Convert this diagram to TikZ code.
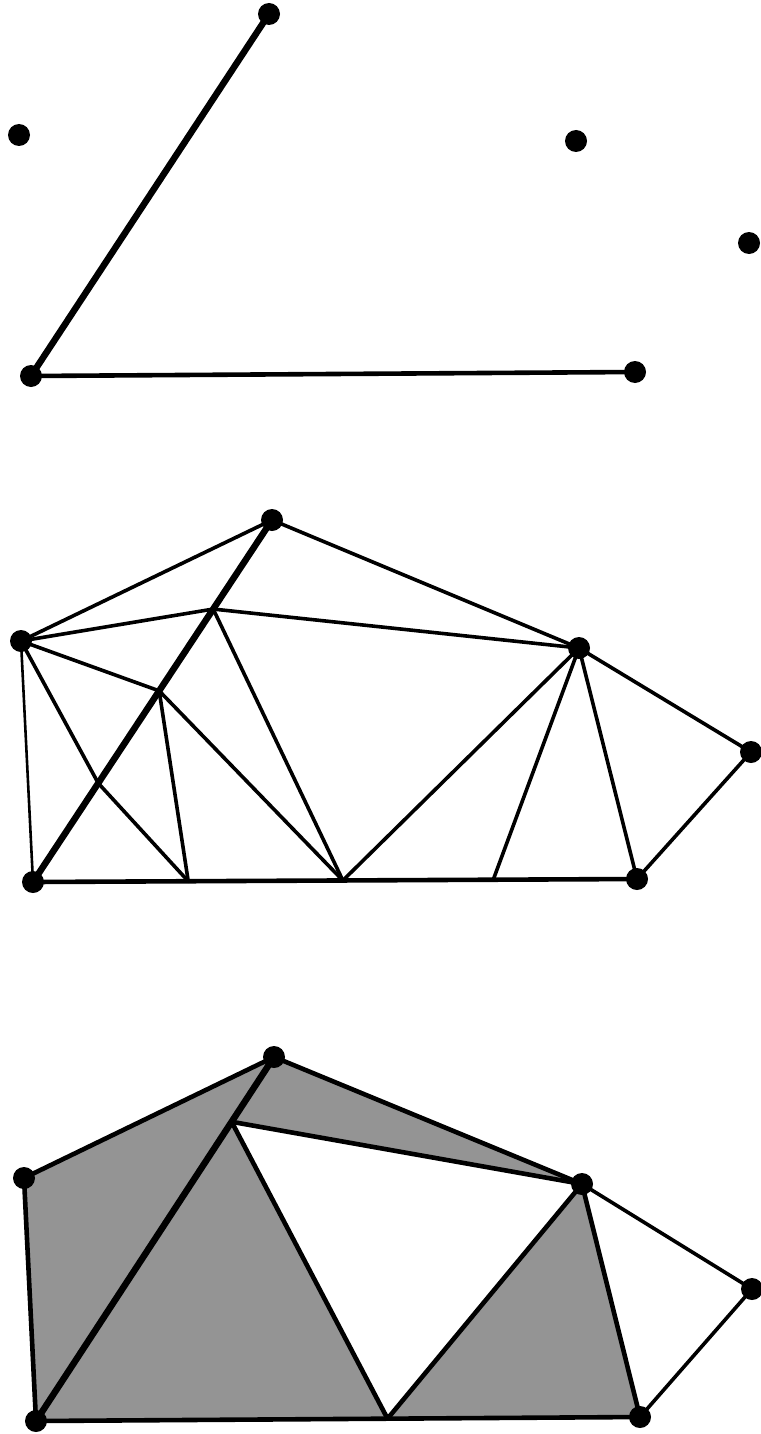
\documentclass[tikz,border=0pt]{standalone}
\usetikzlibrary{calc}

\tikzset{
  vertex/.style={fill=black},
  thin edge/.style={line width=3.6pt},
  base edge/.style={line width=4.6pt},
  heavy edge/.style={line width=6.5pt},
  region/.style={fill=black!42},
}

\begin{document}
\begin{tikzpicture}[x=1pt,y=-1pt, line cap=round, line join=round]

\useasboundingbox (0,0) rectangle (760,1434);

% ---------- first panel: points and the two given segments
\coordinate (a1) at (269,14);
\coordinate (b1) at (19,135);
\coordinate (c1) at (576,141);
\coordinate (d1) at (749,243);
\coordinate (e1) at (31,376);
\coordinate (f1) at (635,372);

\draw[heavy edge] (a1) -- (e1);
\draw[base edge] (e1) -- (f1);

\foreach \p in {a1,b1,c1,d1,e1,f1}
    \fill[vertex] (\p) circle (11);

% ---------- second panel: triangulation with Steiner points
\coordinate (a2) at (272,520);
\coordinate (b2) at (21,641);
\coordinate (c2) at (579,648);
\coordinate (d2) at (751,752);
\coordinate (e2) at (33,882);
\coordinate (f2) at (637,879);

% points on the heavy segment
\coordinate (s1) at ($(a2)!0.246!(e2)$);
\coordinate (s2) at ($(a2)!0.472!(e2)$);
\coordinate (s3) at ($(a2)!0.727!(e2)$);
% points on the bottom segment
\coordinate (m1) at ($(e2)!0.257!(f2)$);
\coordinate (m2) at ($(e2)!0.513!(f2)$);
\coordinate (m3) at ($(e2)!0.762!(f2)$);

\draw[thin edge] (a2) -- (b2);
\draw[thin edge] (a2) -- (c2);
\draw[thin edge] (b2) -- (s1) -- (c2);
\draw[thin edge] (b2) -- (s2);
\draw[thin edge] (b2) -- (s3) -- (m1);
\draw[line width=2.6pt] (b2) -- (e2);
\draw[thin edge] (s1) -- (m2);
\draw[thin edge] (s2) -- (m1);
\draw[thin edge] (s2) -- (m2);
\draw[thin edge] (c2) -- (m2);
\draw[thin edge] (c2) -- (m3);
\draw[thin edge] (c2) -- (f2);
\draw[thin edge] (c2) -- (d2) -- (f2);

\draw[heavy edge] (a2) -- (e2);
\draw[base edge] (e2) -- (f2);

\foreach \p in {a2,b2,c2,d2,e2,f2}
    \fill[vertex] (\p) circle (11);

% ---------- third panel: shaded regions
\coordinate (a3) at (274,1057);
\coordinate (b3) at (24,1178);
\coordinate (c3) at (582,1184);
\coordinate (d3) at (752,1289);
\coordinate (e3) at (36,1421);
\coordinate (f3) at (640,1417);

\coordinate (s4) at ($(a3)!0.178!(e3)$);
\coordinate (m4) at ($(e3)!0.582!(f3)$);

\fill[region] (a3) -- (b3) -- (e3) -- cycle;
\fill[region] (a3) -- (s4) -- (c3) -- cycle;
\fill[region] (s4) -- (e3) -- (m4) -- cycle;
\fill[region] (m4) -- (c3) -- (f3) -- cycle;

\draw[base edge] (a3) -- (b3) -- (e3);
\draw[base edge] (a3) -- (c3);
\draw[base edge] (s4) -- (c3);
\draw[base edge] (s4) -- (m4) -- (c3);
\draw[base edge] (c3) -- (f3);
\draw[thin edge] (c3) -- (d3) -- (f3);

\draw[heavy edge] (a3) -- (e3);
\draw[base edge] (e3) -- (f3);

\foreach \p in {a3,b3,c3,d3,e3,f3}
    \fill[vertex] (\p) circle (11);

\end{tikzpicture}
\end{document}
